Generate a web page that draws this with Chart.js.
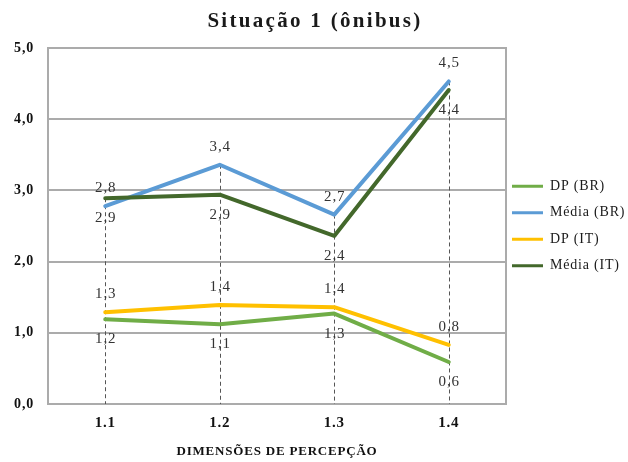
<!DOCTYPE html>
<html lang="pt">
<head>
<meta charset="utf-8">
<title>Situação 1 (ônibus)</title>
<script src="https://cdn.jsdelivr.net/npm/chart.js@4.4.1/dist/chart.umd.min.js"></script>
<style>
  html, body { margin: 0; padding: 0; background: #ffffff; }
  #wrap { width: 628px; height: 462px; }
</style>
</head>
<body>
<div id="wrap"><canvas id="chart" width="628" height="462"></canvas></div>
<script>
// Perception dimensions on the x axis
const dimensoes = ['1.1', '1.2', '1.3', '1.4'];

// Standard deviation and mean, Brazil (BR) and Italy (IT)
const dpBR    = [1.19, 1.12, 1.27, 0.59];
const mediaBR = [2.78, 3.36, 2.66, 4.53];
const dpIT    = [1.29, 1.39, 1.36, 0.83];
const mediaIT = [2.89, 2.94, 2.36, 4.41];

// Y axis ticks
const yTicks = [0, 1, 2, 3, 4, 5];

const SERIF = "'Liberation Serif', 'Times New Roman', serif";
const GRID = '#ababab';

const fmt = v => v.toFixed(1).replace('.', ',');

// Slightly widened lettering, as in the printed figure
const spacing = {
  id: 'spacing',
  beforeLayout(chart) { chart.ctx.letterSpacing = '0.8px'; },
  beforeDraw(chart) { chart.ctx.letterSpacing = '0.8px'; }
};

// Vertical dashed drop lines from the highest point of each category down to the axis
const dropLines = {
  id: 'dropLines',
  beforeDatasetsDraw(chart) {
    const { ctx, chartArea } = chart;
    const metas = chart.getSortedVisibleDatasetMetas();
    ctx.save();
    ctx.strokeStyle = '#555555';
    ctx.lineWidth = 1;
    ctx.setLineDash([4, 3]);
    dimensoes.forEach((_, i) => {
      let top = chartArea.bottom, x = null;
      metas.forEach(m => {
        const el = m.data[i];
        if (el) { top = Math.min(top, el.y); x = el.x; }
      });
      if (x === null) return;
      const px = Math.round(x) + 0.5;
      ctx.beginPath();
      ctx.moveTo(px, top);
      ctx.lineTo(px, chartArea.bottom);
      ctx.stroke();
    });
    ctx.restore();
  }
};

// Right border of the plot area
const plotFrame = {
  id: 'plotFrame',
  beforeDatasetsDraw(chart) {
    const { ctx, chartArea } = chart;
    ctx.save();
    ctx.strokeStyle = GRID;
    ctx.lineWidth = 2;
    ctx.beginPath();
    ctx.moveTo(chartArea.right, chartArea.top - 1);
    ctx.lineTo(chartArea.right, chartArea.bottom + 1);
    ctx.stroke();
    ctx.restore();
  }
};

// Value labels, above or below each point
const valueLabels = {
  id: 'valueLabels',
  afterDatasetsDraw(chart) {
    const { ctx } = chart;
    ctx.save();
    ctx.letterSpacing = '0.8px';
    ctx.font = '15px ' + SERIF;
    ctx.fillStyle = '#333333';
    ctx.textAlign = 'center';
    ctx.textBaseline = 'middle';
    chart.data.datasets.forEach((ds, di) => {
      const meta = chart.getDatasetMeta(di);
      if (meta.hidden) return;
      meta.data.forEach((el, i) => {
        const dy = ds.labelSide === 'above' ? -18 : 20;
        ctx.fillText(fmt(ds.data[i]), el.x + 0.4, el.y + dy);
      });
    });
    ctx.restore();
  }
};

// Legend keys drawn as short line segments in each series colour
const legendLines = {
  id: 'legendLines',
  afterDraw(chart) {
    const lg = chart.legend;
    if (!lg || !lg.legendHitBoxes) return;
    const { ctx } = chart;
    ctx.save();
    ctx.lineWidth = 3;
    lg.legendItems.forEach((item, i) => {
      const hb = lg.legendHitBoxes[i];
      const ds = chart.data.datasets[item.datasetIndex];
      const y = hb.top + hb.height / 2;
      ctx.strokeStyle = ds.borderColor;
      ctx.beginPath();
      ctx.moveTo(hb.left, y);
      ctx.lineTo(hb.left + 31, y);
      ctx.stroke();
    });
    ctx.restore();
  }
};

// Chart title
const chartTitle = {
  id: 'chartTitle',
  afterDraw(chart) {
    const { ctx } = chart;
    ctx.save();
    ctx.letterSpacing = '2.3px';
    ctx.font = 'bold 21px ' + SERIF;
    ctx.fillStyle = '#1a1a1a';
    ctx.textAlign = 'center';
    ctx.textBaseline = 'alphabetic';
    ctx.fillText('Situação 1 (ônibus)', 315, 27);
    ctx.restore();
  }
};

const series = [
  { label: 'DP (BR)',    data: dpBR,    color: '#70ad47', side: 'below', order: 3 },
  { label: 'Média (BR)', data: mediaBR, color: '#5b9bd5', side: 'above', order: 2 },
  { label: 'DP (IT)',    data: dpIT,    color: '#ffc000', side: 'above', order: 1 },
  { label: 'Média (IT)', data: mediaIT, color: '#43682b', side: 'below', order: 0 }
];

new Chart(document.getElementById('chart'), {
  type: 'line',
  data: {
    labels: dimensoes,
    datasets: series.map(s => ({
      label: s.label,
      data: s.data,
      borderColor: s.color,
      backgroundColor: s.color,
      borderWidth: 4,
      borderJoinStyle: 'round',
      borderCapStyle: 'round',
      pointRadius: 0,
      pointHoverRadius: 0,
      tension: 0,
      fill: false,
      order: s.order,
      labelSide: s.side
    }))
  },
  options: {
    responsive: false,
    animation: false,
    events: [],
    layout: { padding: { top: 48, left: 0, right: 0, bottom: 0 } },
    plugins: {
      title: { display: false },
      tooltip: { enabled: false },
      legend: {
        display: true,
        position: 'right',
        align: 'center',
        fullSize: false,
        maxWidth: 122,
        labels: {
          boxWidth: 31,
          boxHeight: 20.5,
          padding: 6,
          color: '#1a1a1a',
          font: { family: SERIF, size: 14 },
          sort: (a, b) => a.datasetIndex - b.datasetIndex,
          generateLabels(chart) {
            const items = Chart.defaults.plugins.legend.labels.generateLabels(chart);
            return items.map(it => Object.assign(it, {
              lineWidth: 0,
              fillStyle: 'rgba(0,0,0,0)',
              strokeStyle: 'rgba(0,0,0,0)'
            }));
          }
        }
      }
    },
    scales: {
      x: {
        type: 'category',
        offset: true,
        grid: { display: false, drawTicks: false },
        border: { display: false },
        ticks: {
          padding: 10,
          color: '#111111',
          font: { family: SERIF, size: 15, weight: 'bold' }
        },
        title: {
          display: true,
          text: 'DIMENSÕES DE PERCEPÇÃO',
          color: '#111111',
          font: { family: SERIF, size: 13, weight: 'bold' },
          padding: { top: 4, bottom: 3 }
        },
        afterFit(scale) { scale.height = 58; }
      },
      y: {
        min: 0,
        max: 5,
        afterBuildTicks(scale) { scale.ticks = yTicks.map(v => ({ value: v })); },
        grid: { color: GRID, lineWidth: 2, drawTicks: false },
        border: { display: true, color: GRID, width: 2 },
        ticks: {
          padding: 14,
          color: '#111111',
          font: { family: SERIF, size: 14, weight: 'bold' },
          callback: v => fmt(v)
        },
        afterFit(scale) { scale.width = 48; }
      }
    }
  },
  plugins: [spacing, plotFrame, dropLines, valueLabels, legendLines, chartTitle]
});
</script>
</body>
</html>
